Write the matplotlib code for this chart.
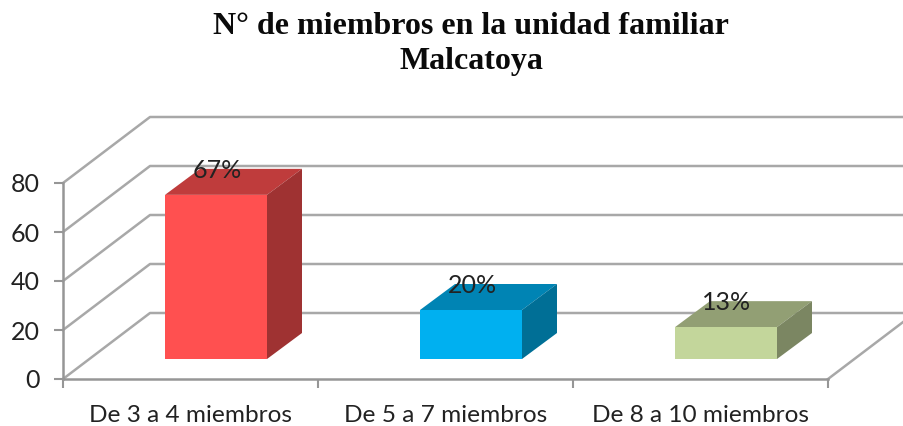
#!/usr/bin/env python3
import matplotlib
matplotlib.use("Agg")
import matplotlib.pyplot as plt
from matplotlib.patches import Polygon

categories = ["De 3 a 4 miembros", "De 5 a 7 miembros", "De 8 a 10 miembros"]
values = [67, 20, 13]
labels = ["67%", "20%", "13%"]
y_ticks = [0, 20, 40, 60, 80]

front_colors = ["#FF5050", "#00B0F0", "#C3D69B"]
top_colors = ["#BF3C3C", "#0084B4", "#929F74"]
side_colors = ["#9F3232", "#006F96", "#7B8662"]

W, H = 904, 426
AX_L, AX_R, AX_B, AX_T = 63, 828, 379, 183

plt.rcParams["font.family"] = ["Lato", "DejaVu Sans"]
fig = plt.figure(figsize=(W / 100, H / 100), dpi=100, facecolor="white")
ax = fig.add_axes([AX_L / W, 1 - AX_B / H, (AX_R - AX_L) / W, (AX_B - AX_T) / H])
ax.set_xlim(0, 3)
ax.set_ylim(0, 80)
ax.patch.set_visible(False)

# pixels to data units, the chart is an oblique fake 3d
px_x = 3 / (AX_R - AX_L)
px_y = 80 / (AX_B - AX_T)
wall_dx, wall_dy = 87 * px_x, 66 * px_y
bar_dx, bar_dy = 35 * px_x, 26 * px_y
base_x, base_y = 25.5 * px_x, 20 * px_y
bar_w = 102 * px_x

grid = "#A8A8A8"
for t in y_ticks:
    ax.plot([0, wall_dx, 3 + wall_dx], [t, t + wall_dy, t + wall_dy],
            color=grid, lw=1.8, clip_on=False, zorder=1)
ax.plot([3, 3 + wall_dx], [0, wall_dy], color=grid, lw=1.8, clip_on=False, zorder=1)

centers = [i + 0.5 + base_x for i in range(len(values))]
ax.bar(centers, values, width=bar_w, bottom=base_y, color=front_colors, zorder=4, clip_on=False)
for c, v, lab, tc, sc in zip(centers, values, labels, top_colors, side_colors):
    x0, x1 = c - bar_w / 2, c + bar_w / 2
    y0, y1 = base_y, base_y + v
    ax.add_patch(Polygon([(x0, y1), (x1, y1), (x1 + bar_dx, y1 + bar_dy), (x0 + bar_dx, y1 + bar_dy)],
                         closed=True, fc=tc, ec="none", zorder=3, clip_on=False))
    ax.add_patch(Polygon([(x1, y0), (x1, y1), (x1 + bar_dx, y1 + bar_dy), (x1 + bar_dx, y0 + bar_dy)],
                         closed=True, fc=sc, ec="none", zorder=3, clip_on=False))
    ax.text(c + 1 * px_x, y1 + bar_dy * 0.95, lab, ha="center", va="center", fontsize=18, color="#222222", zorder=5)

for s in ["top", "right"]:
    ax.spines[s].set_visible(False)
for s in ["left", "bottom"]:
    ax.spines[s].set_color("#969696")
    ax.spines[s].set_linewidth(1.8)
    ax.spines[s].set_zorder(2)

ax.set_yticks(y_ticks)
ax.set_xticks([0, 1, 2, 3])
ax.set_xticklabels([])
ax.set_xticks([0.5, 1.5, 2.5], minor=True)
ax.set_xticklabels(categories, minor=True)
ax.tick_params(axis="y", length=6.5, width=1.5, color="#969696", labelsize=18, labelcolor="#222222", pad=10.5)
ax.tick_params(axis="x", which="major", length=6.5, width=1.5, color="#969696")
ax.tick_params(axis="x", which="minor", length=0, labelsize=17.6, labelcolor="#222222", pad=18.5)

fig.text(471 / W, 1 - 26 / H, "N° de miembros en la unidad familiar", ha="center", va="center",
         family="Liberation Serif", fontweight="bold", fontsize=23, color="#0A0A0A")
fig.text(471 / W, 1 - 62 / H, "Malcatoya", ha="center", va="center",
         family="Liberation Serif", fontweight="bold", fontsize=23, color="#0A0A0A")

fig.savefig("out.png", dpi=100, facecolor="white")
